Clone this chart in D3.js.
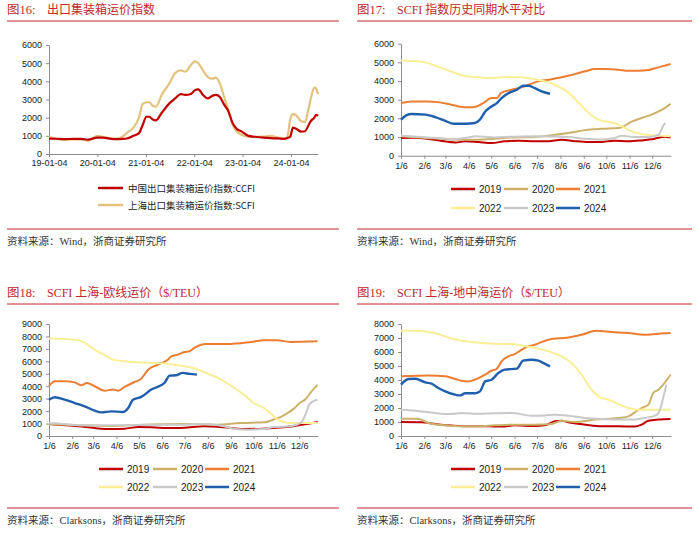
<!DOCTYPE html>
<html><head><meta charset="utf-8">
<script src="https://cdn.jsdelivr.net/npm/d3@7"></script>
<style>
body{margin:0;background:#fff;}
svg{display:block;font-family:"Liberation Sans",Arial,sans-serif;}
</style></head><body>
<svg id="c" width="700" height="538"></svg>
<script>
// ---------- Panel 1 data (weekly index, sampled) ----------
const p1Dates = ["2019-01-04","2019-03-01","2019-05-03","2019-07-05","2019-09-06","2019-10-25","2020-01-03","2020-02-14","2020-04-03","2020-05-29","2020-07-10","2020-08-21","2020-10-02","2020-11-13","2020-12-11","2021-01-08","2021-01-29","2021-02-26","2021-03-19","2021-05-07","2021-07-02","2021-08-13","2021-09-24","2021-10-29","2021-12-10","2022-01-07","2022-02-04","2022-03-11","2022-04-15","2022-05-20","2022-06-17","2022-07-15","2022-08-19","2022-09-16","2022-10-21","2022-11-18","2022-12-30","2023-02-17","2023-04-07","2023-06-09","2023-08-04","2023-09-29","2023-11-17","2023-12-08","2023-12-29","2024-01-19","2024-02-09","2024-03-22","2024-04-19","2024-05-10","2024-05-31","2024-06-28","2024-07-12","2024-07-26"];
const p1SCFI = [950,820,780,800,790,720,1000,950,880,850,950,1200,1450,2000,2750,2850,2850,2650,2600,3300,3900,4450,4600,4530,4900,5100,5000,4600,4250,4150,4200,3900,3100,2500,1600,1250,1050,950,930,960,1000,900,850,950,1900,2200,2150,1800,1750,2300,3000,3650,3600,3300];
const p1CCFI = [850,840,820,830,830,790,900,900,850,820,830,870,1000,1150,1600,2050,2050,1900,1850,2300,2800,3060,3300,3250,3300,3500,3560,3250,3060,3200,3250,3150,2700,2400,1700,1400,1230,1000,950,900,870,860,830,880,950,1450,1400,1230,1250,1500,1800,2000,2150,2100];
const p1XTicks = ["2019-01-04","2020-01-04","2021-01-04","2022-01-04","2023-01-04","2024-01-04"];
const p1Legend = ["中国出口集装箱运价指数:CCFI","上海出口集装箱运价指数:SCFI"];

// ---------- Year comparison panels: [week of year, value] ----------
const years = ["2019","2020","2021","2022","2023","2024"];
const monthTicks = ["1/6","2/6","3/6","4/6","5/6","6/6","7/6","8/6","9/6","10/6","11/6","12/6"];

const scfi2019 = [[0,950],[2,960],[5,910],[7.5,800],[10.4,710],[12.2,770],[14.7,730],[17.2,680],[19.7,770],[22.3,800],[25.4,770],[28,780],[30.5,860],[33,780],[35.6,730],[38,740],[40.6,800],[43.2,770],[45.7,820],[48.2,910],[50,1020],[51.2,980]];
const scfi2020 = [[0,1040],[5,950],[8.4,890],[11.5,860],[14.7,860],[17.8,910],[21,980],[25.4,1000],[28.6,1090],[31.8,1210],[35,1370],[38.1,1440],[41.3,1480],[42.5,1600],[43.8,1820],[45.7,2020],[47.6,2200],[49.5,2450],[51.2,2780]];
const scfi2021 = [[0,2820],[2,2910],[5,2910],[7,2870],[9,2770],[10.9,2640],[12.8,2590],[14.4,2640],[15.6,2820],[17.2,3090],[18.2,3090],[19,3360],[21,3530],[22.9,3660],[24.2,3800],[26,3980],[28,4070],[30.5,4200],[33,4370],[35,4520],[36.8,4640],[38.7,4640],[41.3,4610],[43.2,4550],[45,4550],[47,4590],[48.9,4730],[51.2,4910]];
const scfi2022 = [[0,5100],[2,5080],[4.6,5000],[7,4780],[9.6,4500],[12,4280],[14.7,4200],[17,4160],[20.4,4210],[23,4200],[25.4,4100],[27,4000],[28.6,3880],[30.5,3620],[31.8,3380],[33.7,2850],[35.6,2300],[37.5,1930],[38.7,1840],[40,1790],[41.9,1580],[43.8,1300],[45.7,1160],[47.6,1090],[49.5,1070],[51.2,1040]];
const scfi2023 = [[0,1070],[5,980],[10.2,890],[12.8,980],[14,1040],[17.8,980],[21,1020],[25.4,1040],[31.8,1000],[35,910],[38.1,870],[40.6,950],[41.9,1070],[44.4,1000],[47,1000],[48.9,1120],[49.8,1600],[50.2,1750]];
const scfi2024 = [[0,1930],[1,2160],[2,2230],[4.6,2200],[6.5,2070],[8.4,1870],[10,1710],[12.2,1710],[14,1750],[15,1930],[16,2370],[17.2,2640],[18.2,2820],[19.1,3090],[20.7,3390],[22,3530],[23.2,3750],[24.2,3750],[25.4,3620],[26.7,3450],[28.3,3320]];

const eu2019 = [[0,960],[5.6,780],[8.7,640],[12,560],[14.4,590],[17,720],[19.5,700],[23.3,640],[25.8,670],[29.6,780],[33.4,700],[37,560],[40.8,590],[44.6,700],[47.1,830],[49,960],[51.2,1130]];
const eu2020 = [[0,960],[5.6,860],[12,800],[18,910],[24.6,960],[29,950],[32,910],[36.5,1050],[41,1100],[43.3,1400],[44.5,1600],[45.5,1850],[46.7,2200],[47.8,2650],[48.9,2950],[49.9,3500],[50.6,3850],[51.2,4100]];
const eu2021 = [[0,4000],[1.1,4400],[3,4400],[4.9,4310],[6.2,4070],[7.2,4260],[8.7,4000],[10.6,3640],[12.2,3730],[13.2,3640],[14.4,3940],[16.3,4340],[17.6,4610],[18.9,5330],[20.8,5740],[22.7,6140],[23.3,6400],[24.6,6540],[25.8,6750],[26.8,6810],[27.7,7080],[29.9,7400],[34,7400],[38.5,7560],[41,7690],[43.5,7690],[46,7560],[51.2,7610]];
const eu2022 = [[0,7830],[3,7800],[5.6,7690],[6.8,7480],[8.7,6940],[10.6,6490],[12.2,6140],[14.4,6000],[17,5920],[19.5,5870],[22,5820],[24.6,5680],[26.5,5550],[27.7,5450],[29.6,5120],[31.5,4800],[33.4,4400],[35.3,3860],[37.2,3320],[39,2650],[41,2250],[42.9,1580],[44.2,1180],[46,1050],[48.6,1050],[51.2,1050]];
const eu2023 = [[0,1050],[3,960],[5.6,860],[12,860],[19,910],[25.8,910],[29.6,960],[33.4,780],[35.5,560],[38,510],[41,560],[42.9,720],[46,780],[48,1050],[48.9,1720],[49.6,2520],[50.6,2840],[51.2,2920]];
const eu2024 = [[0,2920],[1.1,3110],[3,2920],[4.9,2650],[6.8,2390],[8.7,2040],[10,1900],[11.9,1980],[14.1,1930],[15.1,2250],[16,2920],[17.6,3140],[19.5,3730],[22,4260],[23,4850],[24.2,4880],[25.5,5070],[26.8,4990],[28.2,4930]];

const med2019 = [[0,1000],[3.9,980],[6.5,860],[9,760],[12.8,690],[16.6,690],[19.1,670],[21.6,760],[25.4,720],[27.3,760],[29.2,1050],[30.5,1090],[31.8,980],[35,810],[38.1,690],[41.3,690],[44.4,670],[45.7,810],[47,1090],[48.9,1170],[51.2,1210]];
const med2020 = [[0,1240],[2.7,1240],[3.9,1170],[5.2,930],[8.4,760],[11.5,690],[14.7,690],[17.8,760],[21,810],[25.4,810],[28.6,860],[30.5,1090],[33,1000],[36.8,1170],[41.3,1290],[43.2,1400],[44.4,1690],[45.7,2000],[47,2240],[47.9,3070],[48.9,3310],[49.8,3670],[51.2,4380]];
const med2021 = [[0,4260],[5.2,4330],[8.4,4260],[10.3,4070],[11.5,3950],[12.8,3900],[14,4020],[16,4380],[17.2,4660],[18.2,4810],[19.1,5330],[20.4,5690],[21.6,5850],[22.9,6160],[24.2,6400],[25.4,6520],[28,6880],[31.8,7040],[34.3,7230],[37.1,7520],[40,7430],[43.2,7350],[46.3,7230],[48.9,7310],[51.2,7350]];
const med2022 = [[0,7520],[2.7,7520],[5.2,7430],[7.1,7280],[9,7040],[11.5,6810],[14,6690],[17.8,6590],[21,6570],[22.9,6470],[25.4,6300],[28,6050],[30.5,5690],[32.4,5210],[34.3,4380],[36.2,3310],[37.5,2830],[39.4,2590],[41.3,2280],[43.2,2000],[45,1880],[47.6,1880],[51.2,1880]];
const med2023 = [[0,1880],[2.7,1810],[6.5,1640],[9.6,1570],[11.5,1640],[14.7,1590],[17.8,1620],[21,1640],[24.8,1450],[27.3,1470],[29.2,1520],[31.8,1450],[35,1290],[38.1,1210],[42,1170],[44.4,1170],[46.3,1290],[47.9,1400],[48.9,1640],[49.8,2710],[50.4,3670]];
const med2024 = [[0,3670],[1.4,4070],[2.7,4090],[4.6,3830],[5.8,3740],[7.1,3430],[8.4,3190],[10.3,2950],[11.2,2900],[12.2,3050],[14,3050],[15,3190],[16,3900],[17.2,4020],[18.5,4500],[19.7,4740],[22,4810],[23.2,5380],[24.8,5450],[26.1,5380],[26.7,5280],[28.3,4970]];

// ---------- styles ----------
const yearColors = {"2019":"#c00000","2020":"#cbb26a","2021":"#ed7d31","2022":"#faee96","2023":"#c9c9c9","2024":"#1f5fae"};
const RED = "#c0282e";

const svg = d3.select("#c");
const parse = d3.timeParse("%Y-%m-%d");

function frame(x0, x1, yTop, yBot, fig, title, src, srcY) {
  svg.append("text").attr("x", x0).attr("y", yTop - 7).attr("fill", RED)
    .style("font-family", '"Liberation Serif","Noto Sans CJK SC",serif').style("font-size", "12.5px").text(fig);
  svg.append("text").attr("x", x0 + 40).attr("y", yTop - 7).attr("fill", RED)
    .style("font-family", '"Liberation Serif","Noto Sans CJK SC",serif').style("font-size", "12px").text(title);
  svg.append("line").attr("x1", x0).attr("x2", x1).attr("y1", yTop).attr("y2", yTop).attr("stroke", RED).attr("stroke-width", 1);
  svg.append("line").attr("x1", x0).attr("x2", x1).attr("y1", yBot).attr("y2", yBot).attr("stroke", RED).attr("stroke-width", 1);
  svg.append("text").attr("x", x0).attr("y", srcY).attr("fill", "#333")
    .style("font-family", '"Liberation Serif","Noto Sans CJK SC",serif').style("font-size", "10.5px").text(src);
}

function styleAxis(g) {
  g.selectAll("path.domain").attr("stroke", "#8c8c8c");
  g.selectAll(".tick line").attr("stroke", "#8c8c8c");
  g.selectAll(".tick text").attr("fill", "#222").style("font-size", "9px").style("font-family", '"Liberation Sans",Arial,sans-serif');
}

// ---------- Panel 1 ----------
(function(){
  frame(7, 339, 21, 229, "图16:", "出口集装箱运价指数", "资料来源：Wind，浙商证券研究所", 245);
  const x = d3.scaleTime().domain([parse("2019-01-04"), parse("2024-07-26")]).range([49, 318]);
  const y = d3.scaleLinear().domain([0, 6000]).range([154, 45]);
  const gx = svg.append("g").attr("transform", "translate(0,154)")
    .call(d3.axisBottom(x).tickValues(p1XTicks.map(parse)).tickFormat(d3.timeFormat("%y-%m-%d")).tickSize(3).tickSizeOuter(0).tickPadding(3));
  styleAxis(gx);
  const gy = svg.append("g").attr("transform", "translate(49,0)")
    .call(d3.axisLeft(y).tickValues(d3.range(0, 6001, 1000)).tickFormat(d3.format("d")).tickSize(3).tickSizeOuter(0).tickPadding(4));
  styleAxis(gy);
  const series = [{v: p1SCFI, c: "#e3c27e"}, {v: p1CCFI, c: "#c00000"}];
  const line = d3.line().x(d => x(d[0])).y(d => y(d[1])).curve(d3.curveMonotoneX);
  series.forEach(s => {
    svg.append("path").datum(p1Dates.map((d, i) => [parse(d), s.v[i]]))
      .attr("d", line).attr("fill", "none").attr("stroke", s.c).attr("stroke-width", 2.2).attr("stroke-linejoin", "round");
  });
  const lg = [{t: p1Legend[0], c: "#c00000", y: 188}, {t: p1Legend[1], c: "#e3c27e", y: 205}];
  lg.forEach(l => {
    svg.append("line").attr("x1", 98).attr("x2", 123).attr("y1", l.y).attr("y2", l.y).attr("stroke", l.c).attr("stroke-width", 2.5);
    svg.append("text").attr("x", 128).attr("y", l.y + 3.5).attr("fill", "#222")
      .style("font-size", "9.5px").style("font-family", '"Noto Sans CJK SC","Liberation Sans",sans-serif').text(l.t);
  });
})();

// ---------- Year comparison panels ----------
function yearPanel(opt) {
  frame(opt.fx0, opt.fx1, opt.top, opt.bot, opt.fig, opt.title, opt.src, opt.srcY);
  const base = new Date(2023, 0, 6);
  const toDate = w => new Date(base.getTime() + w * 7 * 86400000);
  const x = d3.scaleTime().domain([base, new Date(2023, 11, 31)]).range([opt.x0, opt.x1]);
  const y = d3.scaleLinear().domain([0, opt.ymax]).range([opt.y0, opt.y1]);
  const tickDates = monthTicks.map((t, i) => new Date(2023, i, 6));
  const gx = svg.append("g").attr("transform", `translate(0,${opt.y0})`)
    .call(d3.axisBottom(x).tickValues(tickDates).tickFormat((d, i) => monthTicks[i]).tickSize(3).tickSizeOuter(0).tickPadding(4));
  styleAxis(gx);
  const gy = svg.append("g").attr("transform", `translate(${opt.x0},0)`)
    .call(d3.axisLeft(y).tickValues(d3.range(0, opt.ymax + 1, 1000)).tickFormat(d3.format("d")).tickSize(3).tickSizeOuter(0).tickPadding(4));
  styleAxis(gy);
  const line = d3.line().x(d => x(toDate(d[0]))).y(d => y(d[1])).curve(d3.curveMonotoneX);
  years.forEach((yr, i) => {
    svg.append("path").datum(opt.data[i]).attr("d", line).attr("fill", "none")
      .attr("stroke", yearColors[yr]).attr("stroke-width", yr === "2024" ? 2.4 : 2).attr("stroke-linejoin", "round");
  });
  years.forEach((yr, i) => {
    const col = i % 3, row = Math.floor(i / 3);
    const lx = opt.lx[col], ly = opt.ly[row];
    svg.append("line").attr("x1", lx).attr("x2", lx + 24).attr("y1", ly).attr("y2", ly)
      .attr("stroke", yearColors[yr]).attr("stroke-width", 2.5);
    svg.append("text").attr("x", lx + 28).attr("y", ly + 3.5).attr("fill", "#222")
      .style("font-size", "10px").text(yr);
  });
}

yearPanel({fx0: 357, fx1: 692, top: 21, bot: 229, fig: "图17:", title: "SCFI 指数历史同期水平对比",
  src: "资料来源：Wind，浙商证券研究所", srcY: 245,
  x0: 401, x1: 671, y0: 155.7, y1: 43.7, ymax: 6000,
  data: [scfi2019, scfi2020, scfi2021, scfi2022, scfi2023, scfi2024],
  lx: [451, 504, 556], ly: [189, 208]});

yearPanel({fx0: 7, fx1: 339, top: 304, bot: 508, fig: "图18:", title: "SCFI 上海-欧线运价（$/TEU）",
  src: "资料来源：Clarksons，浙商证券研究所", srcY: 524,
  x0: 49, x1: 318, y0: 436, y1: 324, ymax: 9000,
  data: [eu2019, eu2020, eu2021, eu2022, eu2023, eu2024],
  lx: [99, 153, 205], ly: [469, 487]});

yearPanel({fx0: 357, fx1: 692, top: 304, bot: 508, fig: "图19:", title: "SCFI 上海-地中海运价（$/TEU）",
  src: "资料来源：Clarksons，浙商证券研究所", srcY: 524,
  x0: 401, x1: 671, y0: 436, y1: 324, ymax: 8000,
  data: [med2019, med2020, med2021, med2022, med2023, med2024],
  lx: [451, 504, 556], ly: [469, 487]});
</script>
</body></html>
